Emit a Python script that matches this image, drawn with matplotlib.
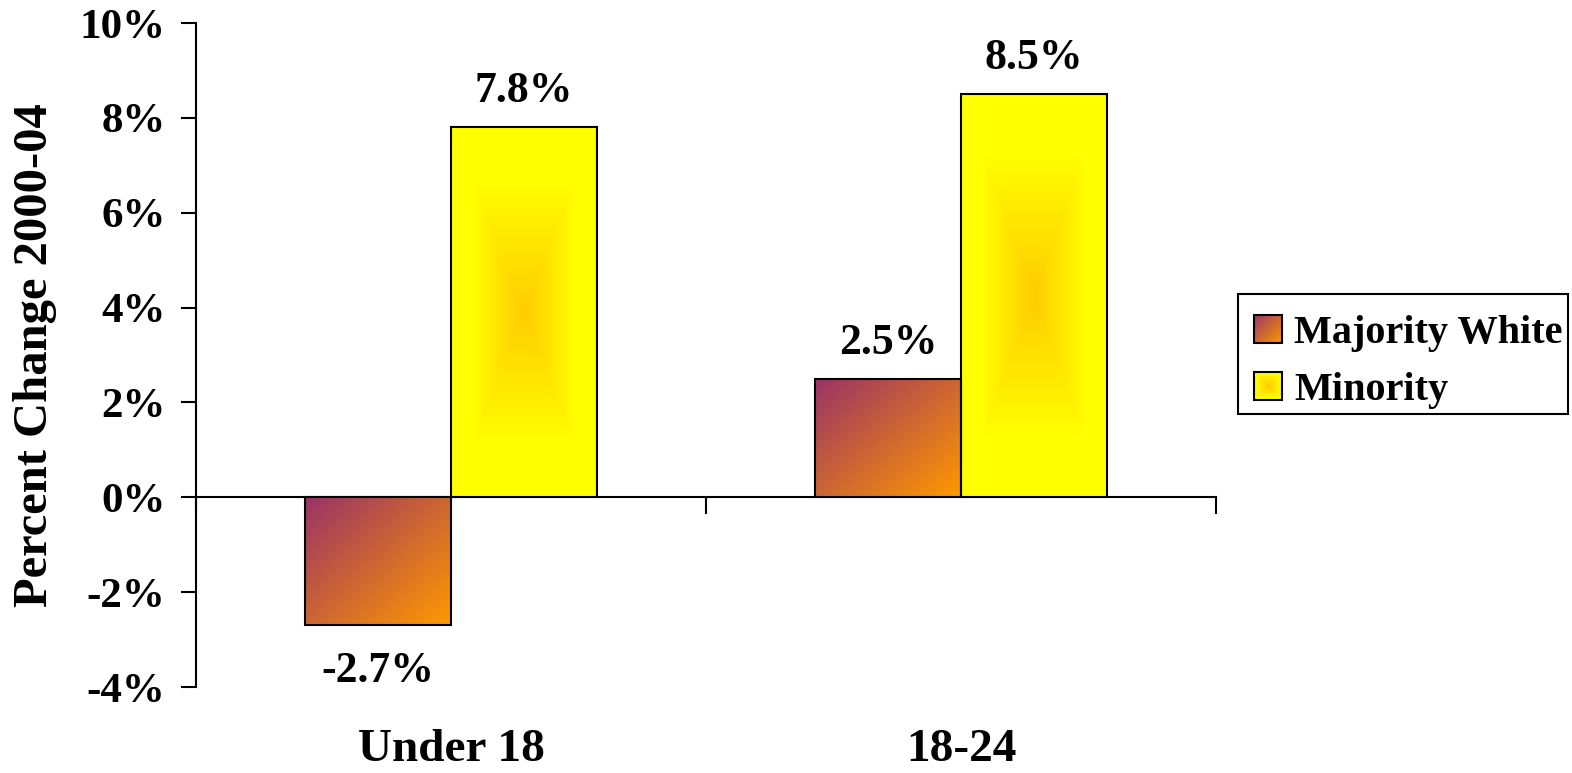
import numpy as np
import matplotlib
matplotlib.use("Agg")
import matplotlib.pyplot as plt
import matplotlib.transforms as mtransforms
from matplotlib.patches import Rectangle
from matplotlib.legend_handler import HandlerBase
from matplotlib.image import BboxImage
from matplotlib.transforms import Bbox, TransformedBbox

plt.rcParams['font.family'] = ['Liberation Serif', 'DejaVu Serif']
plt.rcParams['font.weight'] = 'bold'

categories = ["Under 18", "18-24"]
series_names = ["Majority White", "Minority"]
majority_white = [-2.7, 2.5]
minority = [7.8, 8.5]
value_labels_mw = ["-2.7%", "2.5%"]
value_labels_mi = ["7.8%", "8.5%"]
yticks = [-4, -2, 0, 2, 4, 6, 8, 10]
ytick_labels = ["-4%", "-2%", "0%", "2%", "4%", "6%", "8%", "10%"]

PURPLE = np.array([0x99, 0x33, 0x66]) / 255
ORANGE = np.array([0xFF, 0x99, 0x00]) / 255
GOLD = np.array([0xFF, 0xCC, 0x00]) / 255
YELLOW = np.array([0xFF, 0xFF, 0x00]) / 255


def diag_grad(n=200):
    x = np.linspace(0, 1, n)
    X, Y = np.meshgrid(x, x)
    t = (X + Y) / 2
    return PURPLE[None, None, :] * (1 - t[..., None]) + ORANGE[None, None, :] * t[..., None]


def rect_grad(nx=200, ny=200, reach=0.72):
    x = np.linspace(-1, 1, nx)
    y = np.linspace(-1, 1, ny)
    X, Y = np.meshgrid(x, y)
    t = np.maximum(np.abs(X), np.abs(Y))
    t = np.clip(t / reach, 0, 1)
    return GOLD[None, None, :] * (1 - t[..., None]) + YELLOW[None, None, :] * t[..., None]


IMG_MW = diag_grad()
IMG_MI = rect_grad()

fig = plt.figure(figsize=(15.72, 7.73), dpi=100)
ax = fig.add_axes([196 / 1572, 1 - 687 / 773, (1216 - 196) / 1572, (687 - 23) / 773])

x = np.arange(len(categories))
w = 0.286

bars_mw = ax.bar(x - w / 2, majority_white, w, facecolor='none', edgecolor='black', linewidth=1.5, zorder=3)
bars_mi = ax.bar(x + w / 2, minority, w, facecolor='none', edgecolor='black', linewidth=1.5, zorder=3)

for bars, img in ((bars_mw, IMG_MW), (bars_mi, IMG_MI)):
    for b in bars:
        x0, y0 = b.get_x(), b.get_y()
        bw, bh = b.get_width(), b.get_height()
        ylo, yhi = min(y0, y0 + bh), max(y0, y0 + bh)
        im = ax.imshow(img, extent=(x0, x0 + bw, ylo, yhi), origin='upper',
                       aspect='auto', interpolation='bilinear', zorder=2)
        im.set_clip_path(b)

VAL_FS = 31.5
for i in range(len(categories)):
    v = majority_white[i]
    ax.annotate(value_labels_mw[i], (x[i] - w / 2, v), xytext=(0, 26 if v >= 0 else -33),
                textcoords='offset points', ha='center', va='center', fontsize=VAL_FS, fontweight='bold')
    v = minority[i]
    ax.annotate(value_labels_mi[i], (x[i] + w / 2, v), xytext=(0, 26),
                textcoords='offset points', ha='center', va='center', fontsize=VAL_FS, fontweight='bold')

ax.set_xlim(-0.5, 1.5)
ax.set_ylim(-4, 10)
ax.set_yticks(yticks)
ax.set_yticklabels(ytick_labels, fontsize=31, fontweight='bold')
ax.set_xticks([-0.5, 0.5, 1.5])
ax.set_xticklabels([])
ax.tick_params(axis='y', direction='out', length=11, width=1.5, pad=11)
ax.tick_params(axis='x', direction='out', length=12, width=1.5)
ax.spines['top'].set_visible(False)
ax.spines['right'].set_visible(False)
ax.spines['bottom'].set_position(('data', 0))
ax.spines['left'].set_linewidth(1.5)
ax.spines['bottom'].set_linewidth(1.5)
ax.spines['bottom'].set_zorder(1)

trans = mtransforms.blended_transform_factory(ax.transData, ax.transAxes)
for i, c in enumerate(categories):
    ax.text(x[i], -0.112, c, transform=trans, ha='center', va='baseline', fontsize=34, fontweight='bold')

fig.text(35 / 1572, 1 - 355 / 773, "Percent Change 2000-04", rotation=90, ha='center', va='center',
         fontsize=35, fontweight='bold')


class GradHandler(HandlerBase):
    def __init__(self, img):
        super().__init__()
        self.img = img

    def create_artists(self, legend, orig_handle, xdescent, ydescent, width, height, fontsize, trans):
        s = height
        x0 = -xdescent + (width - s) / 2
        y0 = -ydescent + (height - s) / 2
        bbox = TransformedBbox(Bbox.from_bounds(x0, y0, s, s), trans)
        bi = BboxImage(bbox, interpolation='bilinear')
        bi.set_data(self.img)
        rect = Rectangle((x0, y0), s, s, transform=trans, facecolor='none', edgecolor='black', lw=1.5)
        return [bi, rect]


# legend frame drawn separately
W, H = 1572, 773
fig.patches.append(Rectangle((1238 / W, 1 - 414 / H), (1568 - 1238) / W, (414 - 294) / H,
                             transform=fig.transFigure, facecolor='white', edgecolor='black',
                             linewidth=1.5, zorder=1))

h1 = Rectangle((0, 0), 1, 1)
h2 = Rectangle((0, 0), 1, 1)
leg = fig.legend([h1, h2], series_names,
                 handler_map={h1: GradHandler(IMG_MW), h2: GradHandler(rect_grad(60, 60, 0.9))},
                 loc='center left', bbox_to_anchor=(1242 / W, 1 - 362 / H), fontsize=29,
                 frameon=False, handlelength=0.7, handleheight=0.7,
                 handletextpad=0.3, borderpad=0.3, labelspacing=0.5, borderaxespad=0)
leg.set_zorder(5)
for t in leg.get_texts():
    t.set_fontweight('bold')

fig.savefig("out.png", dpi=100)
